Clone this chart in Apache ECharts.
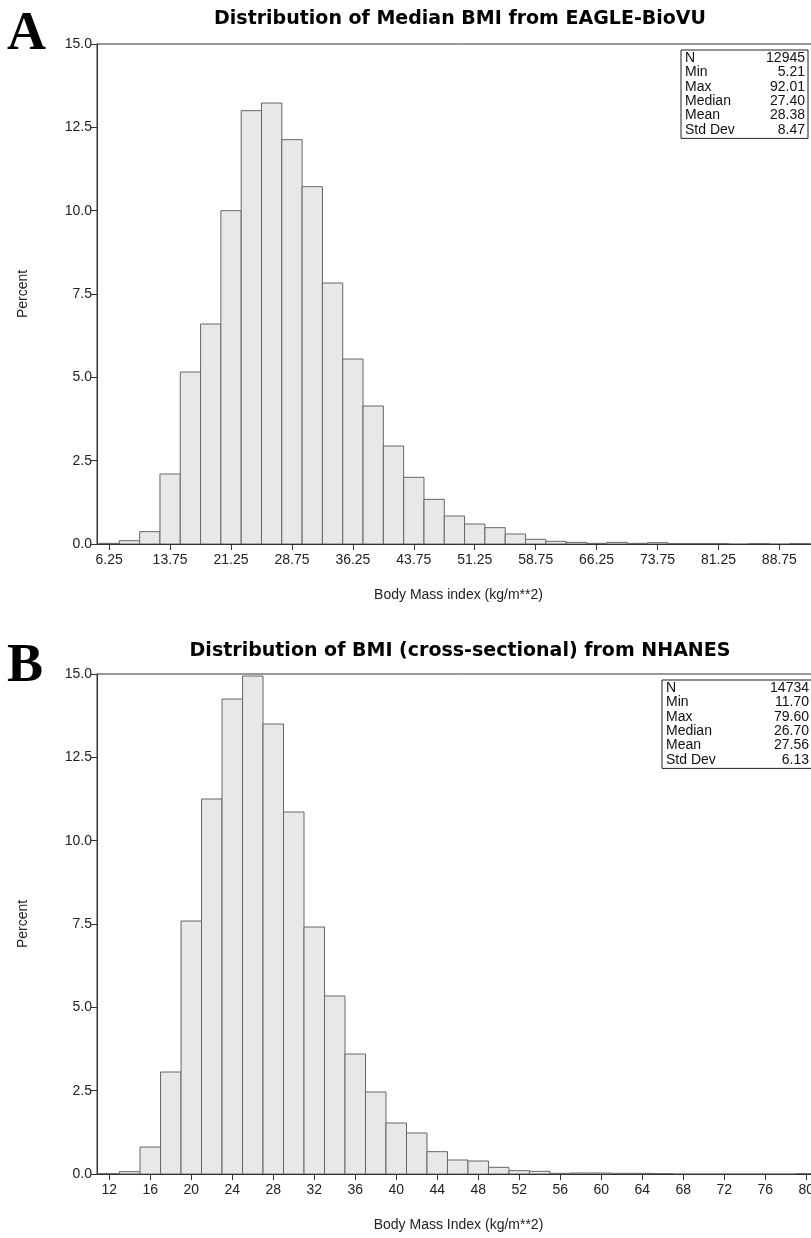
<!DOCTYPE html>
<html>
<head>
<meta charset="utf-8">
<script src="https://cdn.jsdelivr.net/npm/echarts@6/dist/echarts.min.js"></script>
<style>
  html, body { margin: 0; padding: 0; background: #fff; overflow: hidden; }
  #chart { width: 840px; height: 1238px; }
</style>
</head>
<body>
<div id="chart"></div>
<script>
// panel A: EAGLE-BioVU, bins of width 2.5 (centres)
const binsA = [6.25, 8.75, 11.25, 13.75, 16.25, 18.75, 21.25, 23.75, 26.25, 28.75,
  31.25, 33.75, 36.25, 38.75, 41.25, 43.75, 46.25, 48.75, 51.25, 53.75,
  56.25, 58.75, 61.25, 63.75, 66.25, 68.75, 71.25, 73.75, 76.25, 78.75,
  81.25, 83.75, 86.25, 88.75, 91.25];
const pctA = [0.02, 0.10, 0.37, 2.10, 5.16, 6.60, 10.00, 13.00, 13.23, 12.13,
  10.72, 7.83, 5.55, 4.14, 2.94, 2.00, 1.34, 0.84, 0.60, 0.49,
  0.30, 0.14, 0.08, 0.05, 0.02, 0.05, 0.02, 0.04, 0.01, 0.01,
  0.01, 0.00, 0.01, 0.00, 0.01];
const ticksA = [6.25, 13.75, 21.25, 28.75, 36.25, 43.75, 51.25, 58.75, 66.25, 73.75, 81.25, 88.75];

// panel B: NHANES, bins of width 2 (centres)
const binsB = [12, 14, 16, 18, 20, 22, 24, 26, 28, 30, 32, 34, 36, 38, 40, 42, 44, 46,
  48, 50, 52, 54, 56, 58, 60, 62, 64, 66, 68, 70, 72, 74, 76, 78, 80];
const pctB = [0.01, 0.07, 0.81, 3.06, 7.59, 11.25, 14.25, 14.94, 13.50, 10.86,
  7.41, 5.34, 3.60, 2.46, 1.53, 1.23, 0.67, 0.42, 0.39, 0.20,
  0.10, 0.08, 0.02, 0.03, 0.03, 0.02, 0.02, 0.01, 0, 0,
  0, 0, 0, 0, 0.01];
const ticksB = [12, 16, 20, 24, 28, 32, 36, 40, 44, 48, 52, 56, 60, 64, 68, 72, 76, 80];

const statLabels = ['N', 'Min', 'Max', 'Median', 'Mean', 'Std Dev'];
const statsA = ['12945', '5.21', '92.01', '27.40', '28.38', '8.47'];
const statsB = ['14734', '11.70', '79.60', '26.70', '27.56', '6.13'];

const chart = echarts.init(document.getElementById('chart'));
const FONT = '"Liberation Sans", Arial, sans-serif';

function toBins(centres, values, width) {
  return centres.map((c, i) => [c - width / 2, c + width / 2, values[i]]);
}

function renderBar(params, api) {
  const v = api.value(2);
  if (!v) return;
  const p0 = api.coord([api.value(0), 0]);
  const p1 = api.coord([api.value(1), v]);
  return {
    type: 'rect',
    shape: { x: p0[0], y: p1[1], width: p1[0] - p0[0], height: p0[1] - p1[1] },
    style: { fill: '#e8e8e8', stroke: '#666', lineWidth: 1 }
  };
}

function xAxisFor(idx, min, max, ticks, digits, name) {
  return {
    gridIndex: idx, type: 'value', min: min, max: max,
    axisLine: { show: true, lineStyle: { color: '#333', width: 1 } },
    axisTick: { show: true, customValues: ticks, length: 6, lineStyle: { color: '#333' } },
    axisLabel: {
      customValues: ticks, formatter: v => v.toFixed(digits),
      fontFamily: FONT, fontSize: 14, color: '#222', margin: 9
    },
    splitLine: { show: false },
    name: name, nameLocation: 'middle', nameGap: 44,
    nameTextStyle: { fontFamily: FONT, fontSize: 14, color: '#222' }
  };
}

function yAxisFor(idx) {
  return {
    gridIndex: idx, type: 'value', min: 0, max: 15, interval: 2.5,
    axisLine: { show: true, lineStyle: { color: '#333', width: 1 } },
    axisTick: { show: true, length: 6, lineStyle: { color: '#333' } },
    axisLabel: {
      formatter: v => v.toFixed(1), fontFamily: FONT, fontSize: 14, color: '#222', margin: 5
    },
    splitLine: { show: false },
    name: 'Percent', nameLocation: 'middle', nameGap: 67,
    nameTextStyle: { fontFamily: FONT, fontSize: 14, color: '#222' }
  };
}

function statsBox(x, y, w, valueRight, values) {
  const rowH = 14.4;
  const kids = [{
    type: 'rect', shape: { x: x, y: y, width: w, height: rowH * 6 + 2 },
    style: { fill: '#fff', stroke: '#222', lineWidth: 1 }
  }];
  statLabels.forEach((lab, i) => {
    kids.push({
      type: 'text', x: x + 4, y: y + 1 + rowH * i,
      style: { text: lab, font: '14px ' + FONT, fill: '#111', textVerticalAlign: 'top' }
    });
    kids.push({
      type: 'text', x: valueRight, y: y + 1 + rowH * i,
      style: { text: values[i], font: '14px ' + FONT, fill: '#111', textAlign: 'right', textVerticalAlign: 'top' }
    });
  });
  return { type: 'group', z: 100, children: kids };
}

const titleStyle = { fontFamily: '"DejaVu Sans", sans-serif', fontWeight: 'bold', fontSize: 19, color: '#000' };

chart.setOption({
  animation: false,
  backgroundColor: '#fff',
  title: [
    { text: 'Distribution of Median BMI from EAGLE-BioVU', left: 455, top: 5, textAlign: 'center', textStyle: titleStyle },
    { text: 'Distribution of BMI (cross-sectional) from NHANES', left: 455, top: 637, textAlign: 'center', textStyle: titleStyle }
  ],
  grid: [
    { left: 97, top: 44, width: 723, height: 500, show: true, borderColor: '#333', borderWidth: 1 },
    { left: 97, top: 674, width: 723, height: 500, show: true, borderColor: '#333', borderWidth: 1 }
  ],
  xAxis: [
    xAxisFor(0, 4.75, 93.75, ticksA, 2, 'Body Mass index (kg/m**2)'),
    xAxisFor(1, 10.8, 81.35, ticksB, 0, 'Body Mass Index (kg/m**2)')
  ],
  yAxis: [yAxisFor(0), yAxisFor(1)],
  series: [
    { type: 'custom', xAxisIndex: 0, yAxisIndex: 0, renderItem: renderBar,
      encode: { x: [0, 1], y: 2 }, data: toBins(binsA, pctA, 2.5), clip: true },
    { type: 'custom', xAxisIndex: 1, yAxisIndex: 1, renderItem: renderBar,
      encode: { x: [0, 1], y: 2 }, data: toBins(binsB, pctB, 2), clip: true }
  ],
  graphic: [
    { type: 'text', left: 7, top: 8,
      style: { text: 'A', font: 'bold 54px "Liberation Serif", "DejaVu Serif", serif', fill: '#000' } },
    { type: 'text', left: 7, top: 640,
      style: { text: 'B', font: 'bold 54px "Liberation Serif", "DejaVu Serif", serif', fill: '#000' } },
    statsBox(681, 50, 127, 805, statsA),
    statsBox(662, 680, 160, 809, statsB)
  ]
});
</script>
</body>
</html>
